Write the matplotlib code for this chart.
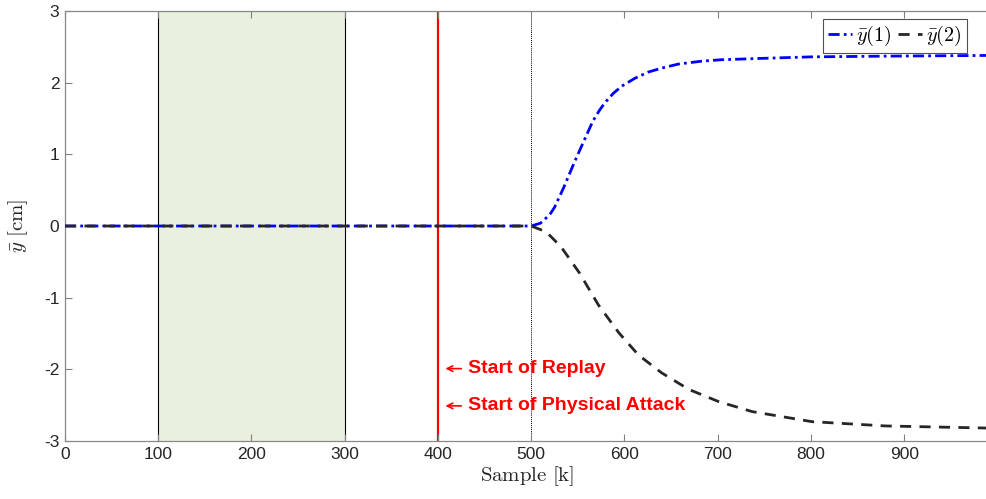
import matplotlib
matplotlib.use("Agg")
import matplotlib.pyplot as plt
import numpy as np

plt.rcParams['mathtext.fontset'] = 'cm'
plt.rcParams['font.family'] = ['Liberation Sans', 'DejaVu Sans']
plt.rcParams['axes.unicode_minus'] = False

# Data
k1 = [0, 500, 510, 520, 525, 535, 546, 557, 566, 573, 579, 588, 597, 611, 626, 642, 658, 683, 704, 750, 800, 880, 991]
y1 = [0, 0, 0.04, 0.16, 0.26, 0.54, 0.88, 1.20, 1.46, 1.61, 1.72, 1.85, 1.95, 2.06, 2.15, 2.21, 2.26, 2.30, 2.32, 2.34, 2.36, 2.37, 2.38]

k2 = [0, 500, 516, 532, 552, 572, 594, 615, 640, 669, 701, 737, 801, 880, 991]
y2 = [0, 0, -0.08, -0.29, -0.66, -1.10, -1.49, -1.80, -2.05, -2.28, -2.45, -2.59, -2.73, -2.79, -2.82]

shade_start, shade_end = 100, 300
replay_k = 400
attack_k = 500
xticks = [0, 100, 200, 300, 400, 500, 600, 700, 800, 900]
yticks = [-3, -2, -1, 0, 1, 2, 3]

fig = plt.figure(figsize=(9.87, 4.99), dpi=100)
ax = fig.add_axes([65/987, 1-441/499, 924/987, (441-11)/499])

ax.axvspan(shade_start, shade_end, color='#e9f0de', zorder=0, lw=0)
ax.axvline(shade_start, color='black', lw=0.8, zorder=1)
ax.axvline(shade_end, color='black', lw=0.8, zorder=1)
ax.axvline(replay_k, color='#ff0000', lw=1.6, zorder=1)
ax.axvline(attack_k, color='black', lw=0.7, ls=(0, (1, 1)), zorder=1)

l1, = ax.plot(k1, y1, color='#0000ff', lw=2.0, ls=(0, (4, 1.5, 1, 1.5)), zorder=3, label=r'$\bar{y}(1)$')
l2, = ax.plot(k2, y2, color='#262626', lw=2.0, ls=(0, (4, 3)), zorder=3, label=r'$\bar{y}(2)$')

ax.set_xlim(0, 991)
ax.set_ylim(-3, 3)
ax.set_xticks(xticks)
ax.set_yticks(yticks)
ax.tick_params(direction='in', length=5, width=0.8, color='#808080', labelsize=12.5,
               labelcolor='#262626', pad=4)
for s in ['top', 'left', 'bottom']:
    ax.spines[s].set_color('#888888')
    ax.spines[s].set_linewidth(0.9)
ax.spines['right'].set_visible(False)
ax.tick_params(top=True)

ax.set_xlabel(r'$\mathrm{Sample\ [k]}$', fontsize=15, color='#262626', labelpad=2)
ax.set_ylabel(r'$\bar{y}\ \mathrm{[cm]}$', fontsize=15, color='#262626', labelpad=10)

# annotations
for yy, txt in [(-1.99, 'Start of Replay'), (-2.51, 'Start of Physical Attack')]:
    ax.annotate('', xy=(405, yy), xytext=(428, yy),
                arrowprops=dict(arrowstyle='->', color='#ff0000', lw=1.2))
    ax.text(432, yy, txt, color='#ff0000', fontsize=14, fontweight='bold',
            va='center', ha='left')

leg = ax.legend(handles=[l1, l2], loc='upper right', ncol=2, fontsize=14.5,
                handlelength=1.2, handletextpad=0.2, columnspacing=0.3,
                borderpad=0.25, borderaxespad=0.0, fancybox=False,
                bbox_to_anchor=((967-65)/924, 1 - 8/430))
leg.get_frame().set_edgecolor('#262626')
leg.get_frame().set_linewidth(0.8)

fig.savefig('out.png', dpi=100)
